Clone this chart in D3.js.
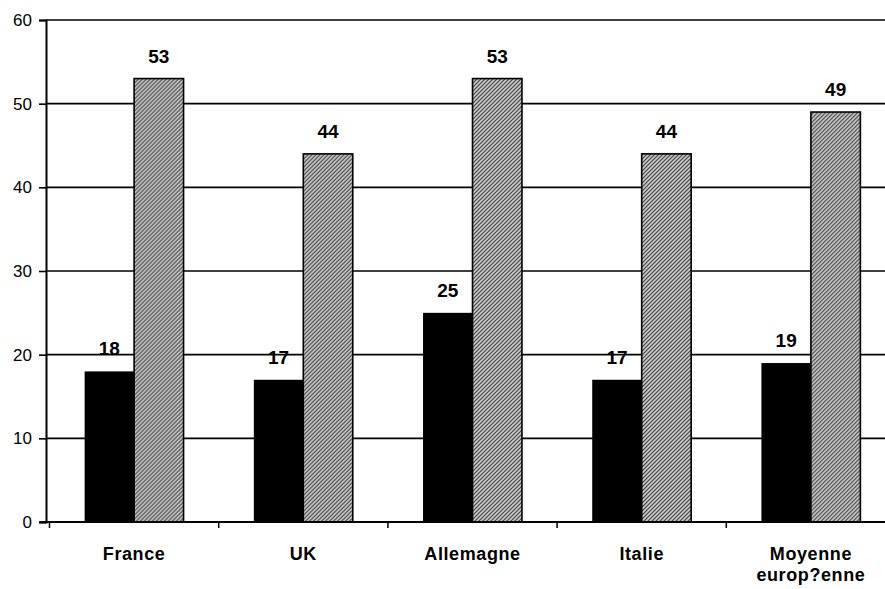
<html>
<head>
  <meta charset="utf-8">
  <script src="https://d3js.org/d3.v7.min.js"></script>
  <style>
    body { margin: 0; background: #fff; }
    text { font-family: "Liberation Sans", Arial, sans-serif; }
  </style>
</head>
<body>
<script>
  var width = 885, height = 589;
  var categories = ["France", "UK", "Allemagne", "Italie", "Moyenne\neurop?enne"];
  var serieA = [18, 17, 25, 17, 19];
  var serieB = [53, 44, 53, 44, 49];
  var yTicks = [0, 10, 20, 30, 40, 50, 60];

  var axisX = 46, bandStart = 49.5, plotTop = 20, plotBottom = 522, band = 169.2;

  var svg = d3.select("body").append("svg")
              .attr("width", width).attr("height", height);

  // hatched grey fill of the second series
  var defs = svg.append("defs");
  var pat = defs.append("pattern")
                .attr("id", "hatch").attr("patternUnits", "userSpaceOnUse")
                .attr("width", 4).attr("height", 4);
  pat.append("rect").attr("width", 4).attr("height", 4).attr("fill", "#cfcfcf");
  pat.append("path").attr("d", "M-1,1 l2,-2 M0,4 l4,-4 M3,5 l2,-2")
     .attr("stroke", "#3c3c3c").attr("stroke-width", 1.2);

  var x = d3.scaleBand().domain(categories).range([bandStart, bandStart + 5 * band]);
  var inner = d3.scaleBand().domain([0, 1])
                .range([0, x.bandwidth()]).paddingInner(0).paddingOuter(0.71);
  var y = d3.scaleLinear().domain([0, 60]).range([plotBottom, plotTop]);

  // gridlines
  svg.append("g").selectAll("line").data(yTicks.slice(1)).join("line")
     .attr("x1", axisX).attr("x2", width)
     .attr("y1", d => y(d)).attr("y2", d => y(d))
     .attr("stroke", "#000").attr("stroke-width", 1.6);

  var groups = svg.append("g").selectAll("g").data(categories).join("g")
                  .attr("transform", d => "translate(" + x(d) + ",0)");

  groups.append("rect")
        .attr("x", inner(0)).attr("width", inner.bandwidth())
        .attr("y", (d, i) => y(serieA[i]))
        .attr("height", (d, i) => plotBottom - y(serieA[i]))
        .attr("fill", "#000");

  groups.append("rect")
        .attr("x", inner(1)).attr("width", inner.bandwidth())
        .attr("y", (d, i) => y(serieB[i]))
        .attr("height", (d, i) => plotBottom - y(serieB[i]))
        .attr("fill", "url(#hatch)").attr("stroke", "#000").attr("stroke-width", 1.6);

  groups.append("text")
        .attr("x", inner(0) + inner.bandwidth() / 2)
        .attr("y", (d, i) => y(serieA[i]) - 16)
        .attr("text-anchor", "middle").attr("font-size", 19).attr("font-weight", "bold")
        .text((d, i) => serieA[i]);

  groups.append("text")
        .attr("x", inner(1) + inner.bandwidth() / 2)
        .attr("y", (d, i) => y(serieB[i]) - 16)
        .attr("text-anchor", "middle").attr("font-size", 19).attr("font-weight", "bold")
        .text((d, i) => serieB[i]);

  // y axis
  var yAxis = d3.axisLeft(y).tickValues(yTicks).tickSize(7).tickPadding(7);
  var gy = svg.append("g").attr("transform", "translate(" + axisX + ",0)").call(yAxis);
  gy.select(".domain").attr("stroke-width", 2);
  gy.selectAll(".tick line").attr("stroke-width", 1.6);
  gy.selectAll("text").attr("font-size", 17).attr("font-family", "Liberation Sans, Arial, sans-serif");

  // x axis
  var gx = svg.append("g").attr("transform", "translate(0," + plotBottom + ")");
  gx.append("line").attr("x1", axisX - 7).attr("x2", width)
    .attr("stroke", "#000").attr("stroke-width", 2);
  gx.selectAll(".sep").data(d3.range(6)).join("line")
    .attr("x1", d => bandStart + d * band).attr("x2", d => bandStart + d * band)
    .attr("y1", 0).attr("y2", 6).attr("stroke", "#000").attr("stroke-width", 1.5);

  svg.append("g").selectAll("text").data(categories).join("text")
     .attr("text-anchor", "middle").attr("font-size", 18).attr("font-weight", "bold")
     .attr("letter-spacing", 0.6)
     .attr("transform", d => "translate(" + (x(d) + x.bandwidth() / 2) + ",560)")
     .selectAll("tspan").data(d => d.split("\n")).join("tspan")
     .attr("x", 0).attr("dy", (d, i) => i ? 21 : 0).text(d => d);
</script>
</body>
</html>
